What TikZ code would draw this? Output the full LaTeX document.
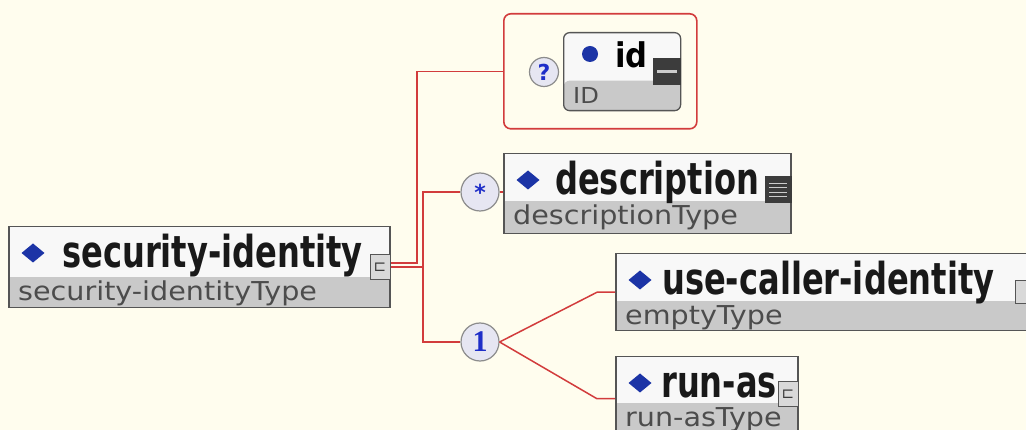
\documentclass[tikz,border=0pt]{standalone}
\usepackage{fontspec}
\setmainfont{DejaVu Sans}
\usetikzlibrary{positioning}
\newfontfamily\namefont[FakeStretch=0.73]{DejaVu Sans}
\newfontfamily\attrfont[FakeStretch=0.9]{DejaVu Sans}
\newfontfamily\typefont[FakeStretch=1.1]{DejaVu Sans}
\newfontfamily\cardfont{Liberation Serif}
\definecolor{paper}{HTML}{FFFDEE}
\definecolor{wire}{HTML}{D23C3C}
\definecolor{frame}{HTML}{555555}
\definecolor{bandgray}{HTML}{C9C9C9}
\definecolor{face}{HTML}{F8F8F8}
\definecolor{gem}{HTML}{1C34A6}
\definecolor{bubble}{HTML}{E6E6F2}
\definecolor{glyph}{HTML}{1E2EC8}
\definecolor{dark}{HTML}{3C3C3C}

\begin{document}
\begin{tikzpicture}[x=1pt, y=-1pt,
  wireline/.style={draw=wire, line width=1.5pt},
  typeband/.style={path picture={\fill[bandgray] (path picture bounding box.south west)
      rectangle ([yshift=#1]path picture bounding box.south east);}},
  elbox/.style={draw=frame, line width=1.5pt, fill=face, inner sep=0pt, anchor=north west},
  namelbl/.style={font=\namefont\bfseries\fontsize{44}{48}\selectfont, text=black!90, inner sep=0pt},
  typelbl/.style={font=\typefont\fontsize{26}{30}\selectfont, text=black!70, inner sep=0pt},
  occ/.style={circle, draw=black!45, fill=bubble, line width=1.2pt, inner sep=0pt, text=glyph},
  conticon/.style={draw=frame, fill=bandgray!70, line width=1pt, minimum width=20, minimum height=25,
    inner sep=0pt, font=\fontsize{15}{15}\selectfont, text=dark},
  darkicon/.style={draw=dark, fill=dark, line width=1pt, minimum width=26, minimum height=26, inner sep=0pt}]

  \fill[paper] (0,0) rectangle (1026,430);
  \useasboundingbox (0,0) rectangle (1026,430);

  \foreach \nm/\x/\y/\w/\h/\s/\nx/\ttl/\typ in {
    sid/8/226/381/81/50/54/{security-identity}/{security-identityType},
    desc/503/153/287/80/47/52/{description}/{descriptionType},
    ucid/615/253/419/77/47/47/{use-caller-identity}/{emptyType},
    runas/615/356/182/84/46/46/{run-as}/{run-asType}}
  {
    \pgfmathsetmacro\bh{\h-\s}
    \node[elbox, minimum width=\w, minimum height=\h, typeband=\bh] (\nm) at (\x,\y) {};
    \fill[gem] (\x+25,\y+17.5) -- (\x+36.5,\y+27) -- (\x+25,\y+36.5) -- (\x+13.5,\y+27) -- cycle;
    \node[namelbl, anchor=base west] (\nm-name) at (\x+\nx,\y+42) {\ttl};
    \node[typelbl, anchor=base west] (\nm-type) at (\x+10,\y+\s+25) {\typ};
  }

  \node[conticon, anchor=east] (sidicon) at (sid.east) {⊏};
  \node[conticon, anchor=east, yshift=5pt] (runasicon) at (runas.east) {⊏};
  \node[conticon, anchor=east, minimum height=23, font=\tiny] (ucidicon) at (ucid.east) {};
  \node[darkicon, anchor=east, yshift=4pt,
    path picture={\foreach \k in {-7,-2.5,2,6.5}
      \draw[white!80!black, line width=1.3pt] ([xshift=-9pt,yshift=\k pt]path picture bounding box.center)
        -- ++(18pt,0);}] (descicon) at (desc.east) {};

  \node[draw=wire, rounded corners=7pt, line width=1.6pt, inner sep=0pt, anchor=north west,
    minimum width=193, minimum height=115] (idgrp) at (503,13) {};
  \node[occ, minimum size=29, font=\bfseries\fontsize{22}{22}\selectfont] (opt) at (544,72) {?};
  \node[elbox, rounded corners=6pt, line width=1.3pt, minimum width=117, minimum height=78,
    typeband=30] (id) at (563,32) {};
  \fill[gem] (590,54) circle[radius=8];
  \node[inner sep=0pt, anchor=base west, font=\attrfont\bfseries\fontsize{34}{36}\selectfont]
    (id-name) at (615,68) {id};
  \node[typelbl, anchor=base west, font=\typefont\fontsize{22}{24}\selectfont] (id-type) at (573,104) {ID};
  \node[darkicon, anchor=east, minimum width=27,
    path picture={\draw[white!80!black, line width=3pt] ([xshift=-10pt]path picture bounding box.center)
      -- ++(20pt,0);}] (idicon) at (id.east) {};

  \node[occ, minimum size=38, font=\bfseries\fontsize{22}{22}\selectfont] (many) at (480,192) {*};
  \node[occ, minimum size=38, font=\cardfont\bfseries\fontsize{30}{30}\selectfont] (one) at (480,342) {1};

  \coordinate (busa) at (417,0);
  \coordinate (busb) at (423,0);
  \draw[wireline] ([yshift=4pt]sid.east) -| (busa |- idgrp.west) -- (idgrp.west);
  \draw[wireline] (sid.east) -| (busb |- many.west) -- (many.west);
  \draw[wireline] (sid.east) -| (busb |- one.west) -- (one.west);
  \draw[wireline] (many.east) -- (many.east -| desc.west);
  \draw[wireline] (one.east) -- ([xshift=-18pt]ucid.west) -- (ucid.west);
  \draw[wireline] (one.east) -- ([xshift=-18pt]runas.west) -- (runas.west);
\end{tikzpicture}
\end{document}
